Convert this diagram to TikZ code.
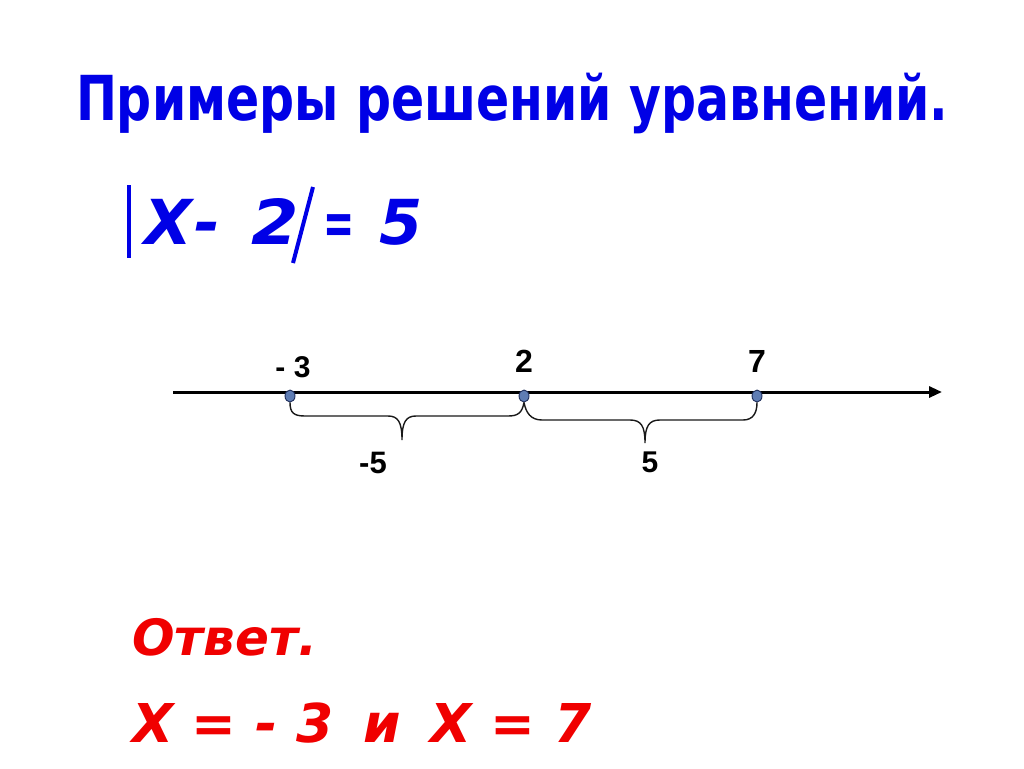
\documentclass[tikz,border=0pt]{standalone}
\usepackage{fontspec}
\usepackage{graphicx}
\setmainfont{DejaVu Sans}
\newfontfamily\numfont{Liberation Sans}
\usetikzlibrary{arrows.meta,shapes.geometric}
\definecolor{tblue}{RGB}{0,0,230}
\definecolor{tred}{RGB}{240,0,0}
\definecolor{dotfill}{RGB}{95,125,180}
\definecolor{dotline}{RGB}{30,45,90}
\begin{document}
\begin{tikzpicture}[x=1pt,y=-1pt,
  txt/.style={inner sep=0pt,outer sep=0pt,anchor=base west},
  bluetitle/.style={txt,text=tblue,font=\fontsize{62}{70}\selectfont\bfseries},
  blueeq/.style={txt,text=tblue,font=\fontsize{62}{70}\selectfont\bfseries\itshape},
  redtxt/.style={txt,text=tred,font=\bfseries\itshape},
  numlbl/.style={inner sep=0pt,outer sep=0pt,anchor=base,font=\numfont\bfseries},
  dotmark/.style={ellipse,draw=dotline,fill=dotfill,line width=0.9pt,minimum width=10pt,minimum height=12pt,inner sep=0pt},
  absbar/.style={tblue,line width=4pt},
  bracepath/.style={draw=black!90,line width=1.4pt},
  axis/.style={line width=3pt,-{Triangle[length=13pt,width=11pt]}}]
\useasboundingbox (0,0) rectangle (1024,768);
\fill[white] (0,0) rectangle (1024,768);

% title
\node[bluetitle] (title) at (76,120) {\scalebox{0.79}[1]{Примеры решений уравнений.}};

% equation
\coordinate (lbart) at (129,185);
\coordinate (lbarb) at (129,258);
\coordinate (rbart) at (313,187);
\coordinate (rbarb) at (293,263);
\draw[absbar] (lbart) -- (lbarb);
\draw[absbar] (rbart) -- (rbarb);
\node[blueeq] (eqL) at (144,244) {X\hspace{3pt}-\hspace{9pt} \scalebox{1.1}[1]{2}};
\node[blueeq] (eqR) at (323,244) {\scalebox{0.6}[1]{=}\hspace{25pt}5};

% number line
\coordinate (axstart) at (173,392);
\coordinate (axend) at (942,392);
\draw[axis] (axstart) -- (axend);

\node[dotmark] (pm3) at (290,396) {};
\node[dotmark] (p2) at (524,396) {};
\node[dotmark] (p7) at (757,396) {};

\node[numlbl,font=\numfont\bfseries\fontsize{30}{34}\selectfont] (lm3) at (293,377) {- 3};
\node[numlbl,font=\numfont\bfseries\fontsize{32}{36}\selectfont] (l2) at (524,372) {2};
\node[numlbl,font=\numfont\bfseries\fontsize{32}{36}\selectfont] (l7) at (757,372) {7};

% braces
\draw[bracepath] (pm3.south) .. controls (290,413) and (294,416) .. (305,416) -- (388,416)
  .. controls (398,416) and (402,422) .. (402,440)
  .. controls (402,422) and (406,416) .. (416,416) -- (508,416)
  .. controls (518,416) and (522,413) .. (p2.south);
\draw[bracepath] (p2.south) .. controls (526,413) and (531,420) .. (542,420) -- (630,420)
  .. controls (641,420) and (645,426) .. (645,443)
  .. controls (645,426) and (649,420) .. (660,420) -- (743,420)
  .. controls (753,420) and (757,413) .. (p7.south);

\node[numlbl,font=\numfont\bfseries\fontsize{31}{35}\selectfont] (lm5) at (373,473) {-5};
\node[numlbl,font=\numfont\bfseries\fontsize{30}{34}\selectfont] (l5) at (650,472) {5};

% answer
\node[redtxt,font=\fontsize{50}{56}\selectfont\bfseries\itshape] (ans) at (132,655) {Ответ.};
\node[redtxt,font=\fontsize{53.5}{60}\selectfont\bfseries\itshape] (sol) at (132,742) {X = - 3\hspace{30pt}и\hspace{30pt}X = 7};
\end{tikzpicture}
\end{document}
